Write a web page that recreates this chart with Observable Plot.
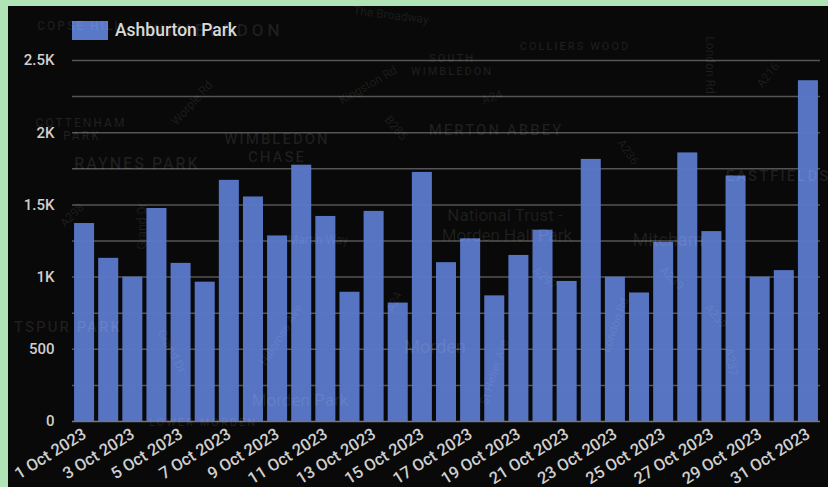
<!DOCTYPE html>
<html>
<head>
<meta charset="utf-8">
<script src="https://cdn.jsdelivr.net/npm/d3@7"></script>
<script src="https://cdn.jsdelivr.net/npm/@observablehq/plot@0.6"></script>
<style>
html,body{margin:0;padding:0;width:828px;height:487px;overflow:hidden;background:#b0e3b5;font-family:Roboto,sans-serif}
#panel{position:absolute;left:8px;top:6px;width:820px;height:481px;background:#090909;overflow:hidden}
#chart{position:absolute;left:0;top:0}
#legend{position:absolute;left:64px;top:14px;display:flex;align-items:center;color:#d8d8d8;font-size:17.5px;font-weight:500}
#legend i{display:block;width:36px;height:19px;background:#5a78c8;margin-right:7px}
#map{position:absolute;left:-8px;top:-6px;width:828px;height:487px;pointer-events:none}
#map span{position:absolute;transform:translate(-50%,-50%);color:rgba(255,255,255,.09);white-space:nowrap;font-size:12px;line-height:1}
#map .area{letter-spacing:2px;font-weight:500}
</style>
</head>
<body>
<div id="panel">
  <div id="chart"></div>
  <div id="legend"><i></i><span id="legend-label"></span></div>
  <div id="map">
    <span class="area" style="left:80px;top:26px">COPSE HILL</span>
    <span class="area" style="left:216px;top:30px;font-size:17px;letter-spacing:4px">WIMBLEDON</span>
    <span class="area" style="left:81px;top:123px">COTTENHAM</span>
    <span class="area" style="left:82px;top:136px">PARK</span>
    <span class="area" style="left:137px;top:164px;font-size:16px">RAYNES PARK</span>
    <span class="area" style="left:277px;top:139px;font-size:15px">WIMBLEDON</span>
    <span class="area" style="left:277px;top:157px;font-size:15px">CHASE</span>
    <span class="area" style="left:452px;top:58px;font-size:11px">SOUTH</span>
    <span class="area" style="left:452px;top:71px;font-size:11px">WIMBLEDON</span>
    <span class="area" style="left:575px;top:46px;font-size:11px">COLLIERS WOOD</span>
    <span class="area" style="left:496px;top:130px;font-size:15px">MERTON ABBEY</span>
    <span class="area" style="left:778px;top:176px;font-size:15px">EASTFIELDS</span>
    <span style="left:505px;top:215px;font-size:17px">National Trust -</span>
    <span style="left:507px;top:235px;font-size:17px">Morden Hall Park</span>
    <span style="left:668px;top:240px;font-size:18px">Mitcham</span>
    <span style="left:435px;top:347px;font-size:18px">Morden</span>
    <span style="left:300px;top:400px;font-size:17px">Morden Park</span>
    <span class="area" style="left:68px;top:327px;font-size:15px">TSPUR PARK</span>
    <span class="area" style="left:203px;top:422px;font-size:11px">LOWER MORDEN</span>
    <span style="left:192px;top:103px;transform:translate(-50%,-50%) rotate(-48deg)">Worple Rd</span>
    <span style="left:391px;top:15px;transform:translate(-50%,-50%) rotate(7deg)">The Broadway</span>
    <span style="left:368px;top:85px;transform:translate(-50%,-50%) rotate(-30deg)">Kingston Rd</span>
    <span style="left:492px;top:97px;transform:translate(-50%,-50%) rotate(-20deg)">A24</span>
    <span style="left:396px;top:128px;transform:translate(-50%,-50%) rotate(50deg)">B285</span>
    <span style="left:628px;top:152px;transform:translate(-50%,-50%) rotate(55deg)">A236</span>
    <span style="left:768px;top:75px;transform:translate(-50%,-50%) rotate(-52deg)">A216</span>
    <span style="left:710px;top:65px;transform:translate(-50%,-50%) rotate(90deg)">London Rd</span>
    <span style="left:72px;top:215px;transform:translate(-50%,-50%) rotate(-45deg)">A298</span>
    <span style="left:142px;top:226px;transform:translate(-50%,-50%) rotate(-90deg)">Grand Dr</span>
    <span style="left:172px;top:351px;transform:translate(-50%,-50%) rotate(62deg)">Grand Dr</span>
    <span style="left:318px;top:240px">Martin Way</span>
    <span style="left:281px;top:335px;transform:translate(-50%,-50%) rotate(-58deg)">Hillcross Ave</span>
    <span style="left:545px;top:278px;transform:translate(-50%,-50%) rotate(40deg)">A297</span>
    <span style="left:615px;top:325px;transform:translate(-50%,-50%) rotate(-70deg)">London Rd</span>
    <span style="left:672px;top:278px;transform:translate(-50%,-50%) rotate(45deg)">A239</span>
    <span style="left:716px;top:316px;transform:translate(-50%,-50%) rotate(50deg)">A239</span>
    <span style="left:731px;top:362px;transform:translate(-50%,-50%) rotate(78deg)">A237</span>
    <span style="left:494px;top:372px;transform:translate(-50%,-50%) rotate(-72deg)">St Helier Ave</span>
    <span style="left:394px;top:302px;transform:translate(-50%,-50%) rotate(-65deg)">A24</span>
  </div>
</div>
<script>
const seriesName = "Ashburton Park";
const dates = ["1 Oct 2023","2 Oct 2023","3 Oct 2023","4 Oct 2023","5 Oct 2023","6 Oct 2023","7 Oct 2023","8 Oct 2023","9 Oct 2023","10 Oct 2023","11 Oct 2023","12 Oct 2023","13 Oct 2023","14 Oct 2023","15 Oct 2023","16 Oct 2023","17 Oct 2023","18 Oct 2023","19 Oct 2023","20 Oct 2023","21 Oct 2023","22 Oct 2023","23 Oct 2023","24 Oct 2023","25 Oct 2023","26 Oct 2023","27 Oct 2023","28 Oct 2023","29 Oct 2023","30 Oct 2023","31 Oct 2023"];
const values = [1371,1130,1000,1475,1095,965,1670,1555,1285,1775,1420,895,1455,820,1725,1100,1265,870,1150,1325,970,1815,1000,890,1240,1860,1315,1700,1000,1045,2360];
const gridValues = [250,500,750,1000,1250,1500,1750,2000,2250,2500];
const yTicks = [0,500,1000,1500,2000,2500];
const yTickLabels = ["0","500","1K","1.5K","2K","2.5K"];
const xTicks = dates.filter((d,i)=>i%2===0);
const rows = dates.map((date,i)=>({date,value:values[i]}));

document.getElementById("legend-label").textContent = seriesName;

const plot = Plot.plot({
  width:820,height:481,
  marginLeft:64,marginRight:8,marginTop:54,marginBottom:66,
  style:{background:"transparent",fontFamily:"Roboto, sans-serif",fontSize:"15px",fontWeight:500,color:"#cfcfcf",overflow:"visible"},
  x:{domain:dates,paddingInner:0.17,paddingOuter:0.085,align:0.5,round:false,label:null},
  y:{domain:[0,2500],label:null},
  marks:[
    Plot.ruleY(gridValues,{stroke:"#555",strokeWidth:1.5}),
    Plot.barY(rows,{x:"date",y:"value",fill:"#5a78c8",fillOpacity:0.97}),
    Plot.ruleY([0],{stroke:"#777",strokeWidth:1.5}),
    Plot.axisY({ticks:yTicks,tickSize:0,tickPadding:18,tickFormat:v=>yTickLabels[yTicks.indexOf(v)],label:null,fill:"#cfcfcf"}),
    Plot.axisX({ticks:xTicks,tickSize:0,tickPadding:11,tickRotate:-32,label:null,fill:"#cfcfcf",fontSize:16.5})
  ]
});
document.getElementById("chart").appendChild(plot);
</script>
</body>
</html>
